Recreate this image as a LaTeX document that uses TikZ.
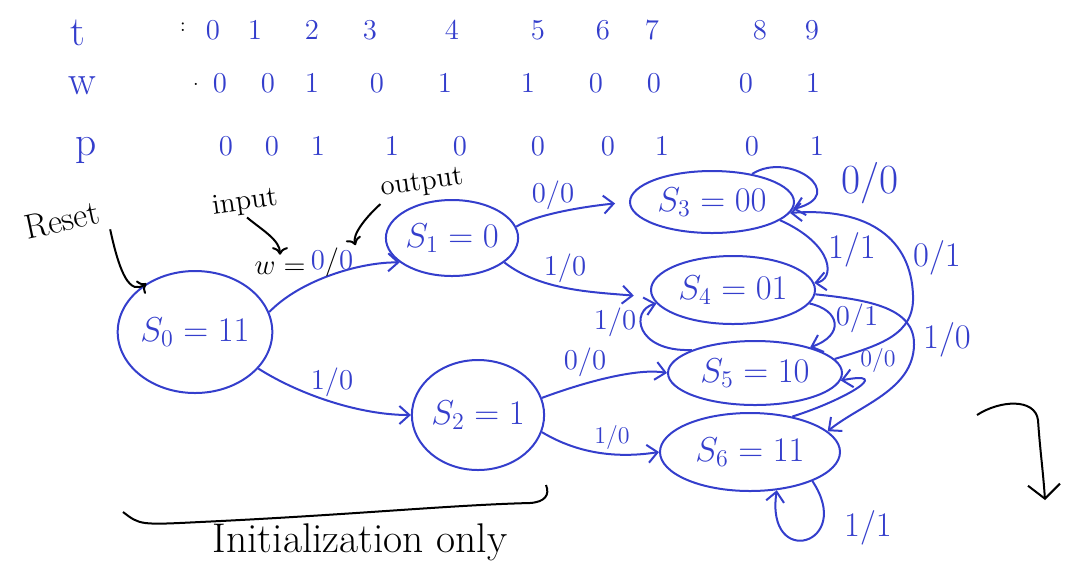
\documentclass[tikz,border=0pt]{standalone}
\usepackage{tikz}
\usetikzlibrary{shapes.geometric,arrows.meta}
\definecolor{ink}{RGB}{52,62,204}
\newcommand{\stateVal}[2]{$S_{#1}=#2$}
\tikzset{
  state/.style={draw=ink, ellipse, line width=1pt, text=ink, font=\LARGE, inner sep=0pt},
  edge/.style={draw=ink, line width=1pt, -{Straight Barb[length=5pt,width=9pt]}},
  tag/.style={text=ink, font=\Large, inner sep=1pt},
  note/.style={black, line width=1pt},
  seqVal/.style={text=ink, font=\Large, inner sep=0pt},
}
\begin{document}
\begin{tikzpicture}[x=0.5pt,y=-0.5pt]
\useasboundingbox (0,0) rectangle (1066,586);

% t / w / p sequence
\node[seqVal,font=\huge] (tHead) at (78,33) {t};
\node[seqVal,font=\huge] (wHead) at (82,86) {w};
\node[seqVal,font=\huge] (pHead) at (86,150) {p};
\node[black] (tColon) at (183,27) {:};
\node[black] (wDot) at (196,84) {.};
\foreach \x/\v [count=\i] in {213/0,255/1,312/2,370/3,452/4,538/5,603/6,652/7,760/8,812/9}
  \node[seqVal] (t\i) at (\x,30) {\v};
\foreach \x/\v [count=\i] in {220/0,268/0,312/1,377/0,445/1,528/1,596/0,654/0,746/0,813/1}
  \node[seqVal] (w\i) at (\x,83) {\v};
\foreach \x/\v [count=\i] in {226/0,272/0,318/1,392/1,460/0,538/0,608/0,662/1,752/0,817/1}
  \node[seqVal] (p\i) at (\x,146) {\v};

% states
\node[state, minimum width=70pt, minimum height=61pt] (S0) at (195,332) {\stateVal{0}{11}};
\node[state, minimum width=56pt, minimum height=38pt] (S1) at (452,238) {\stateVal{1}{0}};
\node[state, minimum width=64pt, minimum height=55pt] (S2) at (478,415) {\stateVal{2}{1}};
\node[state, minimum width=82pt, minimum height=31pt] (S3) at (712,202) {\stateVal{3}{00}};
\node[state, minimum width=82pt, minimum height=34pt] (S4) at (733,290) {\stateVal{4}{01}};
\node[state, minimum width=87pt, minimum height=32pt] (S5) at (755,373) {\stateVal{5}{10}};
\node[state, minimum width=90pt, minimum height=39pt] (S6) at (750,452) {\stateVal{6}{11}};

% transitions
\draw[edge] (S0.15) .. controls (300,280) and (360,262) .. (S1.205);
\draw[edge] (S0.-30) .. controls (300,395) and (360,415) .. (S2.180);
\draw[edge, shorten >=7pt] (S1.10) .. controls (535,215) and (580,207) .. (S3.west);
\draw[edge, shorten >=9pt] (S1.-25) .. controls (540,290) and (590,292) .. (S4.185);
\draw[edge] (S2.15) .. controls (590,380) and (640,368) .. (S5.west);
\draw[edge] (S2.-15) .. controls (580,455) and (620,458) .. (S6.west);
\draw[edge] (S3.35) .. controls (790,150) and (850,195) .. (S3.-5);
\draw[edge] (S3.-15) .. controls (835,245) and (835,280) .. (S4.5);
\draw[edge] (S4.-10) .. controls (840,310) and (845,335) .. (S5.25);
\draw[edge] (S5.160) .. controls (635,352) and (630,310) .. (S4.190);
\draw[edge] (S5.10) .. controls (880,345) and (915,335) .. (913,295)
  .. controls (911,240) and (870,207) .. (S3.-8);
\draw[edge] (S4.-3) .. controls (870,300) and (915,308) .. (914,345)
  .. controls (913,390) and (860,405) .. (S6.15);
\draw[edge] (S6.40) .. controls (845,400) and (895,370) .. (S5.-5);
\draw[edge] (S6.-25) .. controls (855,545) and (765,570) .. (S6.-55);

% transition labels
\node[black, font=\Large] (wEq) at (280,268) {$w=$};
\node[tag] (lblA) at (332,262) {0\textcolor{black}{/}0};
\node[tag] (lblB) at (332,382) {1/0};
\node[tag] (lblC) at (553,195) {0/0};
\node[tag] (lblD) at (565,268) {1/0};
\node[tag] (lblE) at (585,362) {0/0};
\node[tag, font=\large] (lblF) at (612,437) {1/0};
\node[tag, font=\huge] (lblG) at (870,183) {0/0};
\node[tag, font=\LARGE] (lblH) at (852,250) {1/1};
\node[tag, font=\LARGE] (lblI) at (937,258) {0/1};
\node[tag] (lblJ) at (857,318) {0/1};
\node[tag] (lblK) at (615,322) {1/0};
\node[tag, font=\LARGE] (lblL) at (947,340) {1/0};
\node[tag, font=\large] (lblM) at (878,360) {0/0};
\node[tag, font=\LARGE] (lblN) at (868,528) {1/1};

% notes
\node[black, font=\LARGE, rotate=12] (reset) at (62,220) {Reset};
\node[black, font=\Large, rotate=8, inner sep=1pt] (inLbl) at (245,203) {input};
\node[black, font=\Large, rotate=8, inner sep=1pt] (outLbl) at (422,184) {output};
\draw[note, ->] (reset.south east) .. controls (120,275) and (130,295) .. (S0.135);
\draw[note, ->] (inLbl.south) .. controls (262,230) and (280,240) .. (wEq.north);
\draw[note, ->] (outLbl.south west) .. controls (365,218) and (352,235) .. (lblA.north east);

\draw[note] (123,512) .. controls (140,525) .. (200,522)
  .. controls (350,515) and (450,505) .. (530,503)
  .. controls (545,502) and (550,495) .. (546,485);
\node[black, font=\huge] (initLbl) at (360,542) {Initialization only};

\draw[note, -{Straight Barb[length=7pt,width=16pt]}] (977,415) .. controls (1000,400) and (1035,398) .. (1038,420)
  .. controls (1040,450) and (1043,470) .. (1045,500);
\end{tikzpicture}
\end{document}
